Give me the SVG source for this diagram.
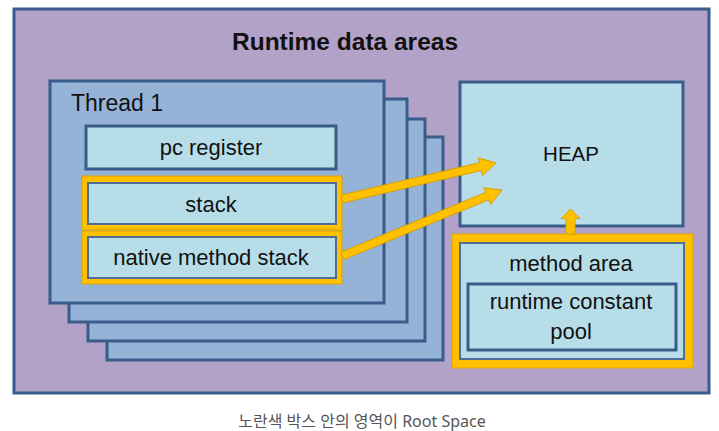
<svg xmlns="http://www.w3.org/2000/svg" width="719" height="431" viewBox="0 0 719 431">
<style>
.thread{fill:#95b3d7;stroke:#385d8a;stroke-width:3}
.box{fill:#b7dee8;stroke:#385d8a;stroke-width:3}
.ibox{fill:#b7dee8;stroke:#4f6d96;stroke-width:2}
.yel{fill:#ffc000;stroke:#e0a400;stroke-width:1}
.arrow{fill:#ffc000;stroke:#d9a000;stroke-width:1}
text{font-family:"Liberation Sans",Arial,sans-serif;fill:#111}
.lbl{font-size:22px;text-anchor:middle}
</style>
<rect width="719" height="431" fill="#ffffff"/>
<g id="runtime-data-areas">
<rect x="14" y="9" width="695" height="384" fill="#b3a2c7" stroke="#385d8a" stroke-width="3"/>
<text x="345" y="50" font-size="24.5" font-weight="bold" text-anchor="middle">Runtime data areas</text>
</g>
<g id="thread-4"><rect class="thread" x="107" y="137" width="336" height="223"/></g>
<g id="thread-3"><rect class="thread" x="88" y="119" width="337" height="222"/></g>
<g id="thread-2"><rect class="thread" x="69" y="99" width="338" height="223"/></g>
<g id="thread-1">
<rect class="thread" x="50" y="81" width="334" height="222"/>
<text x="71" y="111" font-size="23">Thread 1</text>
</g>
<g id="pc-register">
<rect class="box" x="86" y="126" width="250" height="43"/>
<text class="lbl" x="211" y="155">pc register</text>
</g>
<g id="stack">
<rect class="yel" x="82" y="176" width="260" height="54"/>
<rect class="ibox" x="88" y="183" width="248" height="41"/>
<text class="lbl" x="211" y="212">stack</text>
</g>
<g id="native-method-stack">
<rect class="yel" x="82" y="231" width="260" height="53"/>
<rect class="ibox" x="88" y="237" width="248" height="41"/>
<text class="lbl" x="211" y="265">native method stack</text>
</g>
<g id="heap">
<rect class="box" x="460" y="82" width="223" height="144"/>
<text x="571" y="161" font-size="20.5" text-anchor="middle">HEAP</text>
</g>
<g id="method-area">
<rect class="yel" x="452" y="234" width="241" height="134"/>
<rect class="ibox" x="460" y="243" width="224" height="116"/>
<text class="lbl" x="571" y="271">method area</text>
</g>
<g id="runtime-constant-pool">
<rect class="box" x="468" y="284" width="208" height="66"/>
<text class="lbl" x="571" y="309" font-size="22.5">runtime constant</text>
<text class="lbl" x="571" y="339" font-size="22.5">pool</text>
</g>
<g id="connectors">
<polygon class="arrow" points="341.1,195.1 479.5,162.7 478.4,157.8 496,163 482.4,175.4 481.3,170.5 342.9,202.9"/>
<polygon class="arrow" points="340.5,252.3 485.7,192.4 483.8,187.8 502,190 490.6,204.4 488.7,199.8 343.5,259.7"/>
<polygon class="arrow" points="566,234 566,218.5 561,218.5 570.5,209 580,218.5 575,218.5 575,234"/>
</g>
<text x="362" y="427" font-size="16" text-anchor="middle" style="font-family:'Noto Sans','Noto Sans CJK KR',sans-serif;fill:#555">노란색 박스 안의 영역이 Root Space</text>
</svg>
